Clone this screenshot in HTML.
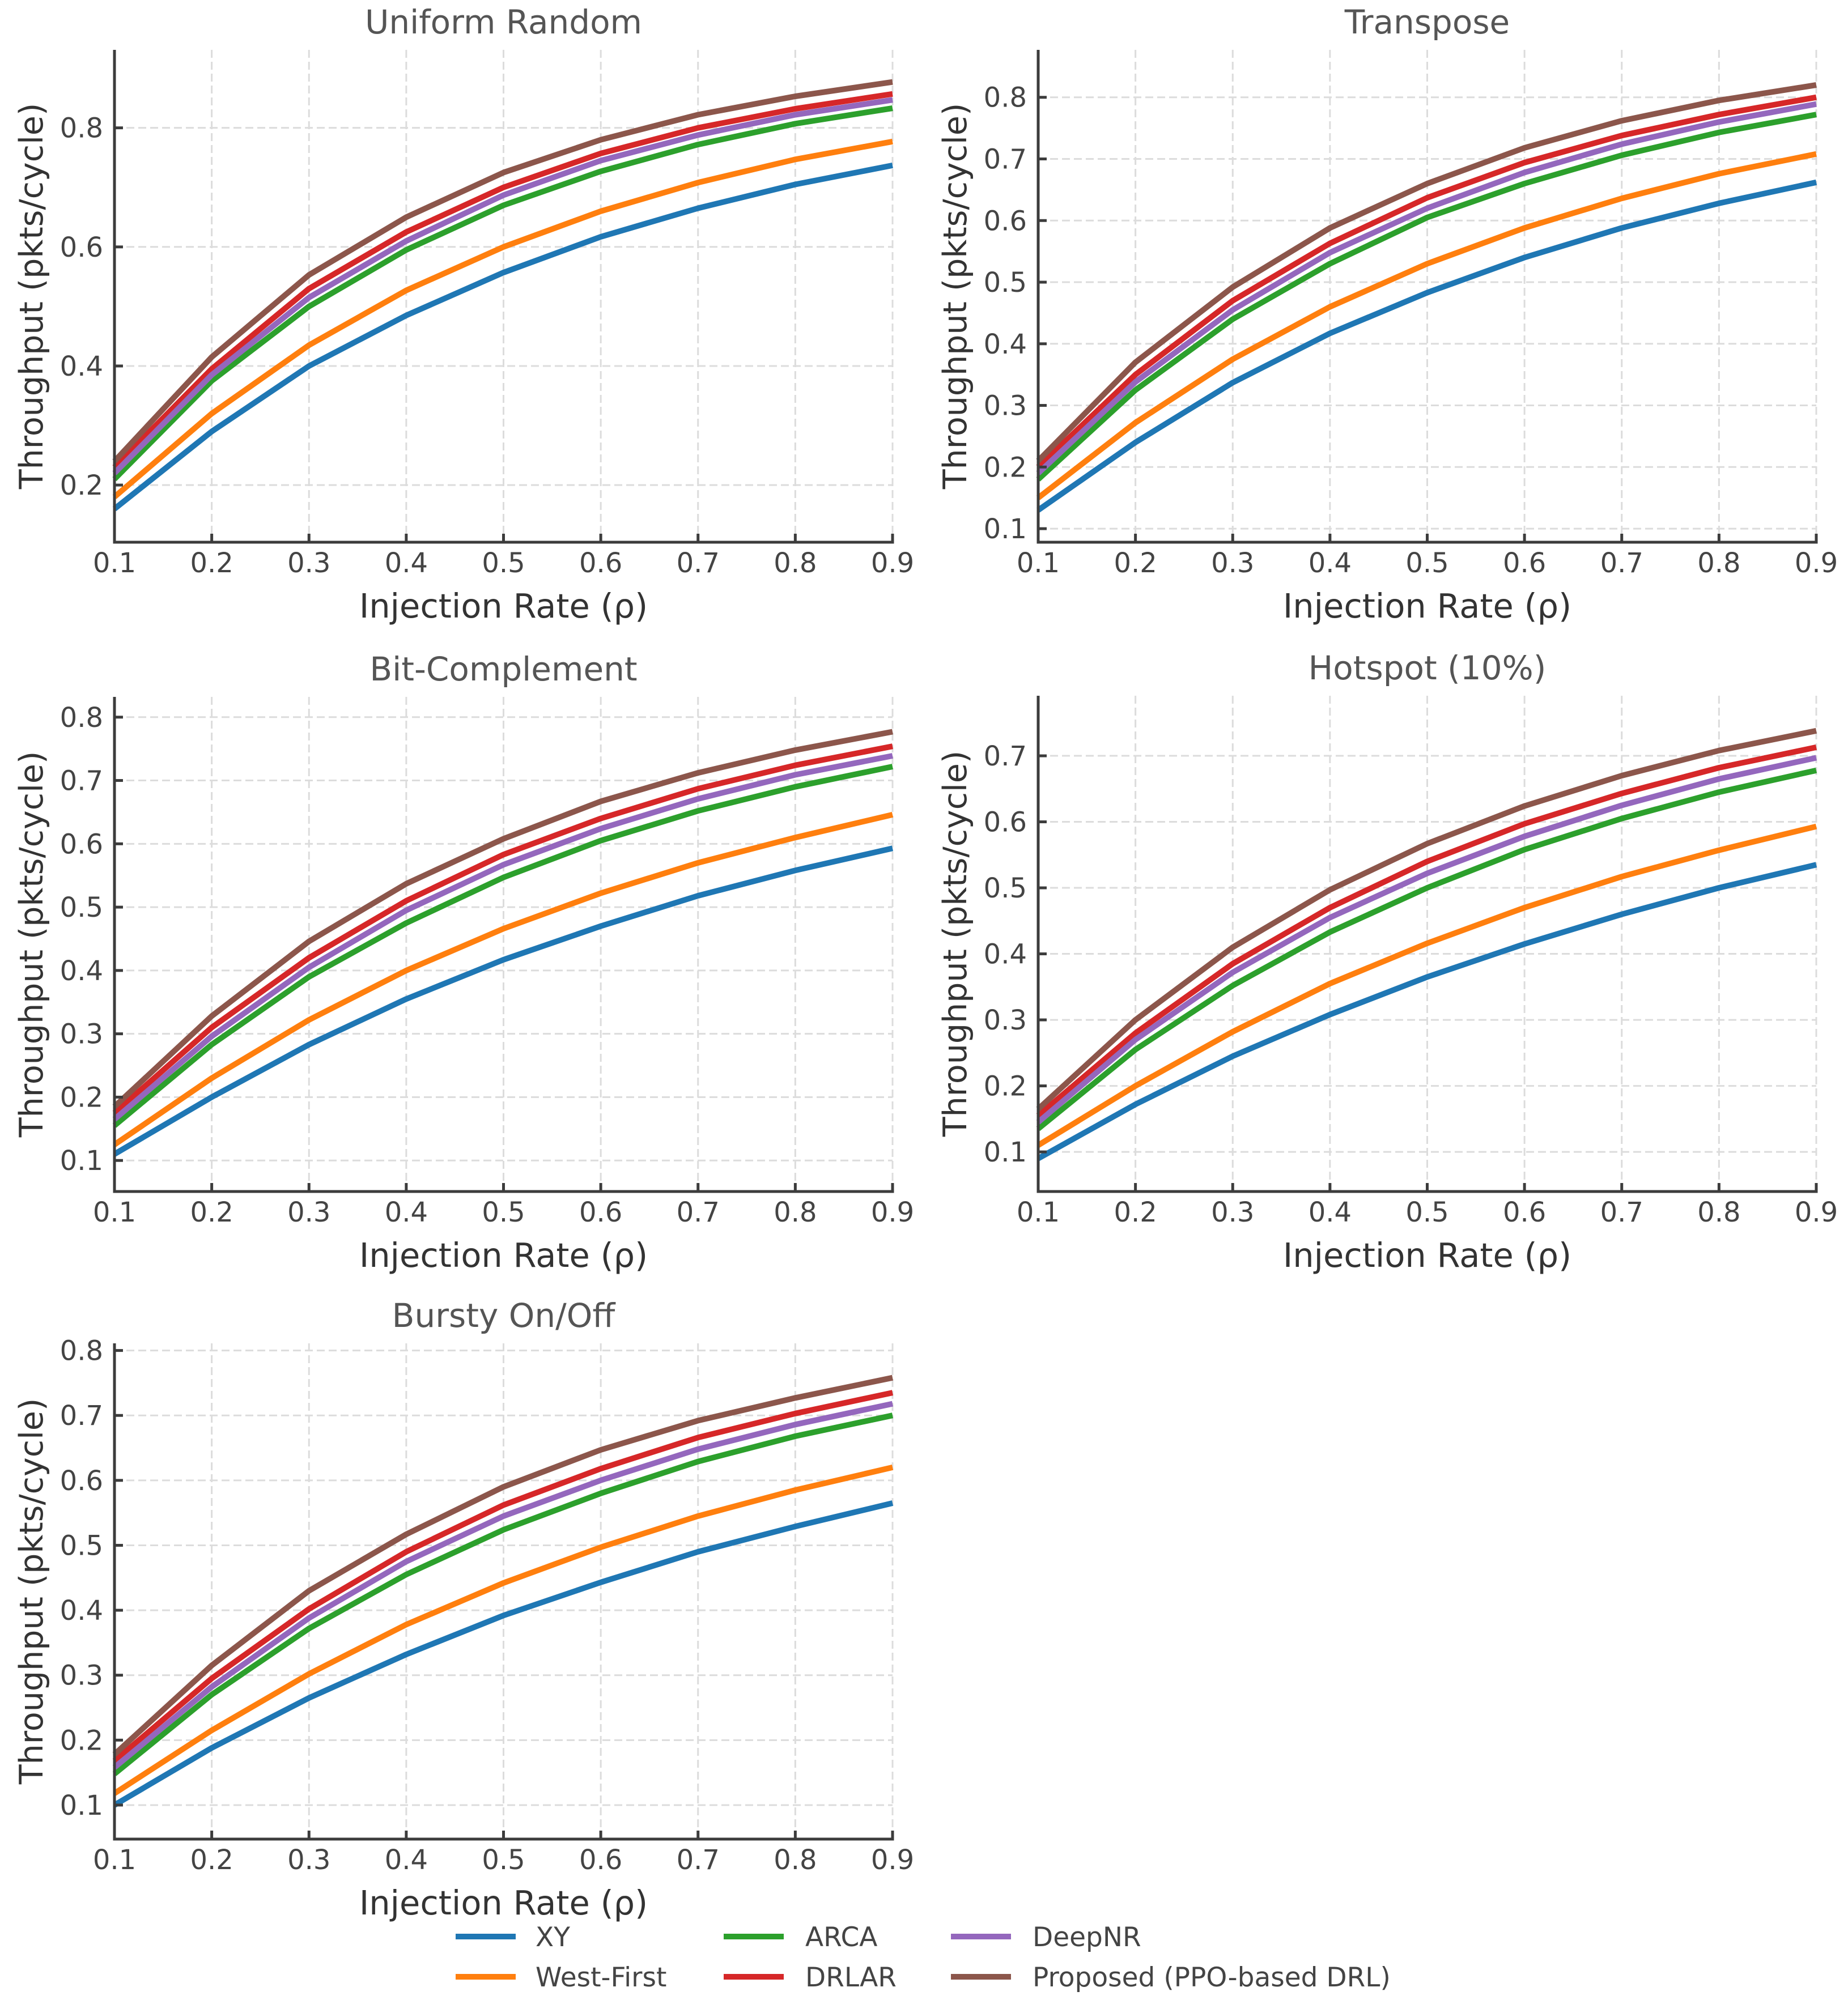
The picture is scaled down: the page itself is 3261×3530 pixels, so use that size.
<!DOCTYPE html>
<html><head><meta charset="utf-8">
<style>
html,body{margin:0;padding:0;background:#fff;}
svg{display:block;font-family:"DejaVu Sans","Liberation Sans",sans-serif;}
</style></head>
<body>
<svg id="fig" width="3261" height="3530" viewBox="0 0 3261 3530" xmlns="http://www.w3.org/2000/svg">
<rect width="3261" height="3530" fill="#fff"/>
<g id="legend"></g>
</svg>
<script>
const xValues = [0.1,0.2,0.3,0.4,0.5,0.6,0.7,0.8,0.9];
const seriesNames = ["XY","West-First","ARCA","DRLAR","DeepNR","Proposed (PPO-based DRL)"];
const seriesColors = ["#1f77b4","#ff7f0e","#2ca02c","#d62728","#9467bd","#8c564b"];
const xTickLabels = ["0.1","0.2","0.3","0.4","0.5","0.6","0.7","0.8","0.9"];

const uniformXY    = [0.16,0.29,0.40,0.485,0.557,0.617,0.665,0.705,0.737];
const uniformWF    = [0.18,0.32,0.435,0.527,0.60,0.66,0.708,0.747,0.777];
const uniformARCA  = [0.21,0.375,0.50,0.595,0.67,0.727,0.772,0.807,0.833];
const uniformDRLAR = [0.23,0.395,0.53,0.625,0.70,0.757,0.80,0.832,0.857];
const uniformDeepNR= [0.22,0.385,0.515,0.61,0.687,0.745,0.788,0.822,0.847];
const uniformProp  = [0.24,0.415,0.553,0.65,0.725,0.78,0.822,0.853,0.877];

const transXY    = [0.13,0.24,0.337,0.417,0.483,0.54,0.588,0.628,0.662];
const transWF    = [0.15,0.272,0.375,0.46,0.53,0.588,0.636,0.676,0.708];
const transARCA  = [0.18,0.325,0.44,0.53,0.605,0.66,0.706,0.743,0.772];
const transDRLAR = [0.2,0.35,0.47,0.563,0.637,0.694,0.738,0.772,0.8];
const transDeepNR= [0.19,0.338,0.455,0.548,0.62,0.678,0.724,0.76,0.789];
const transProp  = [0.21,0.37,0.492,0.588,0.66,0.718,0.762,0.795,0.82];

const bitXY    = [0.11,0.2,0.283,0.355,0.417,0.47,0.518,0.558,0.593];
const bitWF    = [0.125,0.23,0.322,0.4,0.466,0.522,0.57,0.61,0.646];
const bitARCA  = [0.155,0.283,0.39,0.475,0.547,0.605,0.652,0.69,0.722];
const bitDRLAR = [0.175,0.31,0.42,0.51,0.583,0.64,0.687,0.724,0.754];
const bitDeepNR= [0.165,0.296,0.405,0.495,0.567,0.624,0.671,0.709,0.739];
const bitProp  = [0.185,0.328,0.446,0.537,0.608,0.667,0.712,0.748,0.777];

const hotXY    = [0.09,0.172,0.245,0.308,0.365,0.415,0.46,0.5,0.535];
const hotWF    = [0.11,0.2,0.282,0.355,0.416,0.47,0.517,0.557,0.593];
const hotARCA  = [0.135,0.255,0.352,0.433,0.5,0.558,0.605,0.645,0.678];
const hotDRLAR = [0.155,0.28,0.385,0.47,0.54,0.597,0.643,0.682,0.713];
const hotDeepNR= [0.145,0.27,0.372,0.455,0.522,0.578,0.625,0.665,0.697];
const hotProp  = [0.165,0.3,0.41,0.497,0.567,0.624,0.67,0.708,0.738];

const burstXY    = [0.1,0.188,0.265,0.332,0.392,0.443,0.49,0.529,0.565];
const burstWF    = [0.118,0.215,0.302,0.378,0.442,0.497,0.545,0.585,0.62];
const burstARCA  = [0.148,0.27,0.372,0.455,0.524,0.58,0.629,0.668,0.7];
const burstDRLAR = [0.168,0.295,0.402,0.49,0.562,0.618,0.666,0.703,0.735];
const burstDeepNR= [0.158,0.282,0.388,0.475,0.545,0.6,0.648,0.686,0.718];
const burstProp  = [0.178,0.315,0.43,0.517,0.59,0.647,0.692,0.727,0.758];

const uniformTicks = [0.2,0.4,0.6,0.8];
const transTicks = [0.1,0.2,0.3,0.4,0.5,0.6,0.7,0.8];
const bitTicks = [0.1,0.2,0.3,0.4,0.5,0.6,0.7,0.8];
const hotTicks = [0.1,0.2,0.3,0.4,0.5,0.6,0.7];
const burstTicks = [0.1,0.2,0.3,0.4,0.5,0.6,0.7,0.8];

const NS="http://www.w3.org/2000/svg";
const svg=document.getElementById('fig');
function mk(tag,attrs,parent){const e=document.createElementNS(NS,tag);for(const k in attrs)e.setAttribute(k,attrs[k]);(parent||svg).appendChild(e);return e;}

const panels=[
 {key:"uniform",title:"Uniform Random",L:202,R:1575,T:88,B:957,ymin:0.104,ymax:0.931,ticks:uniformTicks,fmt:1,data:[uniformXY,uniformWF,uniformARCA,uniformDRLAR,uniformDeepNR,uniformProp]},
 {key:"transpose",title:"Transpose",L:1832,R:3205,T:88,B:957,ymin:0.078,ymax:0.877,ticks:transTicks,fmt:1,data:[transXY,transWF,transARCA,transDRLAR,transDeepNR,transProp]},
 {key:"bit-complement",title:"Bit-Complement",L:202,R:1575,T:1230,B:2103,ymin:0.051,ymax:0.832,ticks:bitTicks,fmt:1,data:[bitXY,bitWF,bitARCA,bitDRLAR,bitDeepNR,bitProp]},
 {key:"hotspot",title:"Hotspot (10%)",L:1832,R:3205,T:1228,B:2103,ymin:0.04,ymax:0.791,ticks:hotTicks,fmt:1,data:[hotXY,hotWF,hotARCA,hotDRLAR,hotDeepNR,hotProp]},
 {key:"bursty",title:"Bursty On/Off",L:202,R:1575,T:2371,B:3246,ymin:0.0476,ymax:0.811,ticks:burstTicks,fmt:1,data:[burstXY,burstWF,burstARCA,burstDRLAR,burstDeepNR,burstProp]}
];

panels.forEach(p=>{
  const g=mk('g',{});
  
  
  const xs=v=>p.L+(v-0.1)/(0.9-0.1)*(p.R-p.L);
  const ys=v=>p.B-(v-p.ymin)/(p.ymax-p.ymin)*(p.B-p.T);
  xValues.forEach((v,i)=>{
    const l=mk('line',{x1:xs(v),x2:xs(v),y1:p.T,y2:p.B,stroke:"#dcdcdc","stroke-width":3,"stroke-dasharray":"14,7"},g);
    
    
  });
  p.ticks.forEach(v=>{
    const l=mk('line',{x1:p.L,x2:p.R,y1:ys(v),y2:ys(v),stroke:"#dcdcdc","stroke-width":3,"stroke-dasharray":"14,7"},g);
    
    
  });
  p.data.forEach((arr,si)=>{
    const pts=arr.map((v,i)=>xs(xValues[i]).toFixed(1)+","+ys(v).toFixed(1)).join(" ");
    const pl=mk('polyline',{points:pts,fill:"none",stroke:seriesColors[si],"stroke-width":10,"stroke-linejoin":"round"},g);
    
    
  });
  const s1=mk('line',{x1:p.L,x2:p.L,y1:p.T,y2:p.B+2.5,stroke:"#3c3c3c","stroke-width":5},g);
  
  
  const s2=mk('line',{x1:p.L-2.5,x2:p.R+2.5,y1:p.B,y2:p.B,stroke:"#3c3c3c","stroke-width":5},g);
  
  
  xValues.forEach((v,i)=>{
    const t=mk('line',{x1:xs(v),x2:xs(v),y1:p.B,y2:p.B-15,stroke:"#3c3c3c","stroke-width":5},g);
    
    
    const tx=mk('text',{x:xs(v),y:p.B+53,"text-anchor":"middle","font-size":48,fill:"#444"},g);
    tx.textContent=xTickLabels[i];
    
    
  });
  p.ticks.forEach(v=>{
    const t=mk('line',{x1:p.L,x2:p.L+15,y1:ys(v),y2:ys(v),stroke:"#3c3c3c","stroke-width":5},g);
    
    
    const tx=mk('text',{x:p.L-20,y:ys(v)+17,"text-anchor":"end","font-size":48,fill:"#444"},g);
    tx.textContent=v.toFixed(p.fmt);
    
    
  });
  const ti=mk('text',{x:(p.L+p.R)/2,y:p.T-29,"text-anchor":"middle","font-size":58,fill:"#555"},g);
  ti.textContent=p.title;
  
  
  const xl=mk('text',{x:(p.L+p.R)/2,y:p.B+133,"text-anchor":"middle","font-size":59,fill:"#333"},g);
  xl.textContent="Injection Rate (ρ)";
  
  
  const cy=(p.T+p.B)/2, cx=p.L-127;
  const yl=mk('text',{x:cx,y:cy,"text-anchor":"middle","font-size":57,fill:"#333",transform:`rotate(-90 ${cx} ${cy})`},g);
  yl.textContent="Throughput (pkts/cycle)";
  
  
});

const leg=document.getElementById('legend');
const legCols=[{lx:804,tx:945},{lx:1277,tx:1421},{lx:1678,tx:1822}];
const legRows=[3418,3489];
const legOrder=[[0,0,0],[1,0,1],[2,1,0],[3,1,1],[4,2,0],[5,2,1]];
legOrder.forEach(o=>{
  const si=o[0],c=legCols[o[1]],y=legRows[o[2]];
  const ln=mk('line',{x1:c.lx,x2:c.lx+106,y1:y,y2:y,stroke:seriesColors[si],"stroke-width":10},leg);
  
  
  const t=mk('text',{x:c.tx,y:y+17,"font-size":47,fill:"#444"},leg);
  t.textContent=seriesNames[si];
  
  
});
</script>
</body></html>
